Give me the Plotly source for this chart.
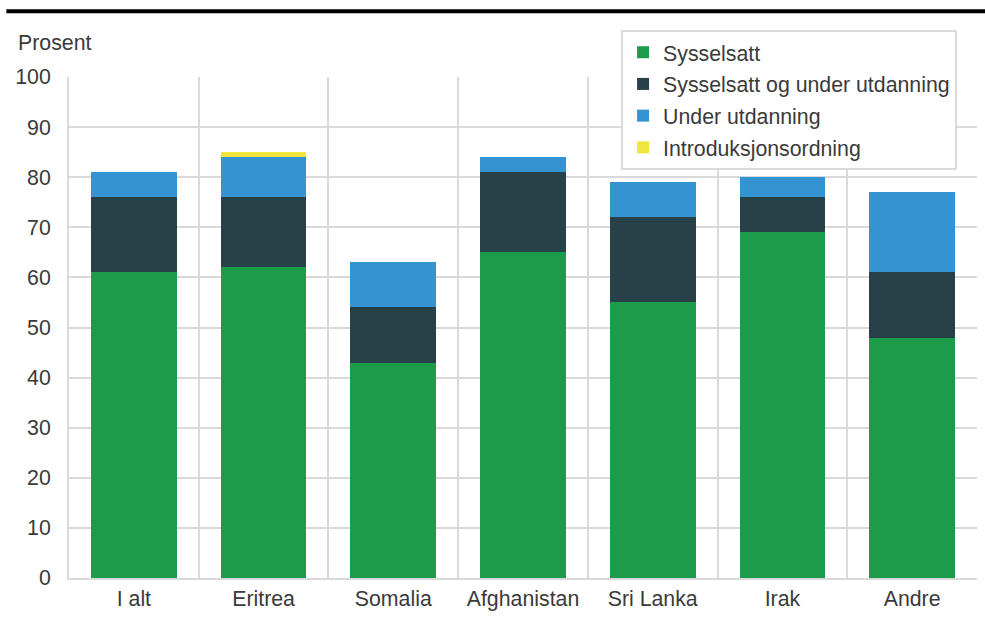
import plotly.graph_objects as go

categories = ["I alt", "Eritrea", "Somalia", "Afghanistan", "Sri Lanka", "Irak", "Andre"]
sysselsatt = [61, 62, 43, 65, 55, 69, 48]
syss_utd = [15, 14, 11, 16, 17, 7, 13]
under_utd = [5, 8, 9, 3, 7, 4, 16]
intro = [0, 1, 0, 0, 0, 0, 0]

series = [
    ("Sysselsatt", sysselsatt, "#1c9b4a"),
    ("Sysselsatt og under utdanning", syss_utd, "#284149"),
    ("Under utdanning", under_utd, "#3494d2"),
    ("Introduksjonsordning", intro, "#efe53d"),
]

font_family = "Liberation Sans, Arial, sans-serif"
text_color = "#3a3a3a"
grid_color = "#d9d9d9"
fs = 21.3

fig = go.Figure()
for i, (name, vals, col) in enumerate(series):
    fig.add_trace(go.Bar(
        x=categories, y=vals, name=name, marker_color=col,
        marker_line_width=0, width=0.66, legendgroup=f"g{i}",
    ))

fig.update_layout(
    width=985, height=617,
    barmode="stack",
    plot_bgcolor="white", paper_bgcolor="white",
    margin=dict(l=69, r=8, t=77, b=39, autoexpand=False),
    font=dict(family=font_family, size=fs, color=text_color),
    showlegend=True,
    legend=dict(
        x=0.608, y=1.094, xanchor="left", yanchor="top",
        bgcolor="white", bordercolor=grid_color, borderwidth=2,
        traceorder="grouped", tracegroupgap=1,
        font=dict(size=fs, color=text_color),
    ),
    xaxis=dict(
        type="category", tickson="boundaries", showgrid=True,
        gridcolor=grid_color, gridwidth=2, ticks="",
        showline=True, linecolor=grid_color, linewidth=2,
        tickfont=dict(size=fs, color=text_color),
        range=[-0.5, 6.5], automargin=False,
    ),
    yaxis=dict(
        range=[0, 100], dtick=10, showgrid=True, gridcolor=grid_color,
        gridwidth=2, showline=True, linecolor=grid_color, linewidth=2,
        zeroline=False, ticks="", ticklabelstandoff=12,
        tickfont=dict(size=fs, color=text_color), automargin=False,
    ),
    annotations=[dict(
        text="Prosent", xref="paper", yref="paper", x=-0.058, y=1.068,
        xanchor="left", yanchor="middle", showarrow=False,
        font=dict(size=fs, color=text_color),
    )],
    shapes=[dict(
        type="line", xref="paper", yref="paper",
        x0=-0.069, x1=1.03, y0=1.131, y1=1.131,
        line=dict(color="black", width=4),
    )],
)

fig.write_html(
    "out.html",
    config={"displayModeBar": False},
    post_script="document.body.style.margin='0';document.body.style.overflow='hidden';",
)
